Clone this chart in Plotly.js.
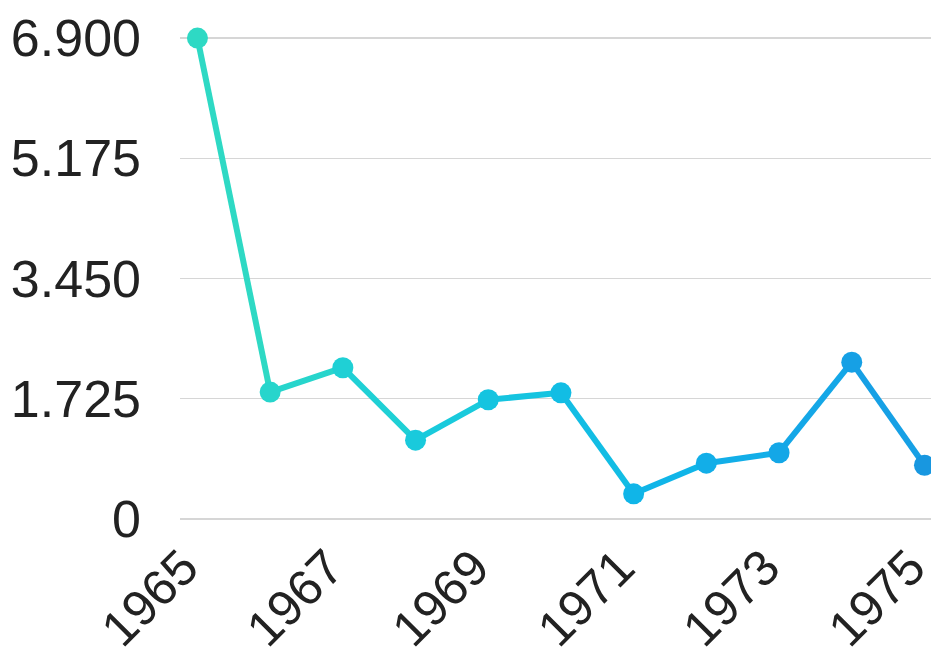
<!DOCTYPE html>
<html>
<head>
<meta charset="utf-8">
<script src="https://cdn.plot.ly/plotly-3.0.1.min.js"></script>
<style>html,body{margin:0;padding:0;background:#fff;}#chart{width:931px;height:647px;}</style>
</head>
<body>
<div id="chart"></div>
<script>
const years = [1965, 1966, 1967, 1968, 1969, 1970, 1971, 1972, 1973, 1974, 1975];
const values = [6.9, 1.82, 2.17, 1.13, 1.71, 1.81, 0.36, 0.80, 0.95, 2.25, 0.77];
const pointColors = ['#2ed9c4', '#27d5cc', '#1fd0d5', '#19cadc', '#15c4e0', '#12bde4', '#10b5e8', '#12aee8', '#14a7e7', '#16a0e5', '#1897e0'];
const yTickVals = [0, 1.725, 3.45, 5.175, 6.9];
const yTickText = ['0', '1.725', '3.450', '5.175', '6.900'];
const xTickVals = [1965, 1967, 1969, 1971, 1973, 1975];
const xTickText = ['1965', '1967', '1969', '1971', '1973', '1975'];

const traces = [];
for (let i = 0; i < years.length - 1; i++) {
  traces.push({
    x: [years[i], years[i + 1]],
    y: [values[i], values[i + 1]],
    mode: 'lines',
    line: {color: pointColors[i], width: 6},
    hoverinfo: 'skip',
    showlegend: false,
    cliponaxis: false
  });
}
traces.push({
  x: years,
  y: values,
  mode: 'markers',
  marker: {color: pointColors, size: 21},
  showlegend: false,
  cliponaxis: false
});

const layout = {
  width: 931,
  height: 647,
  margin: {l: 180, r: 0, t: 37, b: 127},
  paper_bgcolor: '#ffffff',
  plot_bgcolor: '#ffffff',
  font: {family: 'Liberation Sans, Arial, sans-serif', color: '#222222', size: 52},
  xaxis: {
    range: [1964.76, 1975.09],
    tickvals: xTickVals,
    ticktext: xTickText,
    tickangle: -45,
    showgrid: false,
    zeroline: false,
    showline: false,
    ticks: '',
    ticklabeloverflow: 'allow',
    ticklabelstandoff: 7,
    ticklabelshift: -14,
    tickfont: {size: 50}
  },
  yaxis: {
    range: [-0.015, 6.915],
    tickvals: yTickVals,
    ticktext: yTickText,
    showgrid: true,
    gridcolor: '#d6d6d6',
    gridwidth: 1.5,
    zeroline: false,
    showline: false,
    ticks: '',
    ticklabelstandoff: 38,
    tickfont: {size: 52}
  }
};

Plotly.newPlot('chart', traces, layout, {displayModeBar: false, staticPlot: true});
</script>
</body>
</html>
